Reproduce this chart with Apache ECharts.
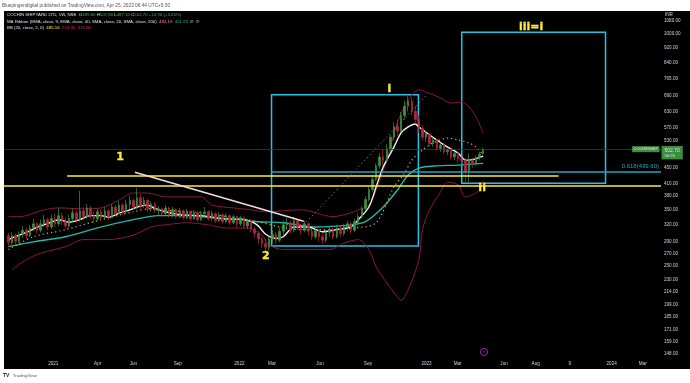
<!DOCTYPE html>
<html><head><meta charset="utf-8">
<script src="https://cdn.jsdelivr.net/npm/echarts@6/dist/echarts.min.js"></script>
<style>html,body{margin:0;padding:0;background:#000}#c{width:690px;height:383px}</style>
</head><body><div id="c"></div>
<script>
// ---------------- DATA ----------------
const weekStart = '2020-10-05';
// weekly candles: [open, close, low, high]
const ohlc = [
[300,288,280,305],[288,300,284,306],[300,290,285,304],[290,303,287,308],[303,310,296,318],
[310,300,294,314],[300,314,297,320],[314,322,308,332],[322,310,304,326],[310,322,306,330],
[322,330,316,340],[330,316,310,334],[316,332,312,340],[332,322,316,342],[322,338,318,355],
[338,326,320,344],[326,318,312,334],[318,332,314,340],[332,344,326,352],[344,330,324,348],
[330,348,326,392],[348,336,330,356],[336,354,332,362],[354,338,332,358],[338,332,324,346],
[332,346,328,352],[346,334,330,350],[334,348,330,356],[348,336,330,352],[336,356,332,362],
[356,342,338,360],[342,360,340,368],[360,346,340,364],[346,362,342,372],[362,370,352,380],
[370,356,350,374],[356,376,352,398],[376,358,350,384],[358,370,354,378],[370,352,346,374],
[352,362,346,368],[362,348,344,366],[348,352,340,358],[352,342,336,355],[342,354,338,360],
[354,340,334,357],[340,350,335,356],[350,336,332,353],[336,348,333,354],[348,334,330,351],
[334,346,331,352],[346,332,328,349],[332,344,329,350],[344,330,326,347],[330,342,327,348],
[342,346,336,356],[346,332,328,349],[332,342,328,348],[342,328,324,345],[328,340,325,345],
[340,326,322,343],[326,338,323,343],[338,324,320,340],[324,336,321,340],[336,322,316,338],
[322,334,318,338],[334,318,314,336],[318,328,312,332],[328,312,306,330],[312,304,296,316],
[304,294,286,308],[294,286,278,298],[286,280,270,294],[280,294,274,298],[294,302,286,310],
[302,292,286,306],[292,308,288,314],[308,320,300,328],[320,324,310,334],[324,310,304,328],
[310,328,306,336],[328,316,310,332],[316,310,302,322],[310,322,306,328],[322,308,300,325],
[308,298,292,312],[298,310,294,314],[310,298,290,312],[298,292,286,304],[292,306,288,310],
[306,312,298,318],[312,298,294,314],[298,314,295,320],[314,304,298,318],[304,316,300,322],
[316,322,308,328],[322,310,304,325],[310,326,306,332],[324,336,320,342],[336,352,332,358],
[352,372,348,380],[372,395,368,402],[395,420,390,430],[420,455,415,462],[455,480,448,492],
[480,470,455,500],[470,505,465,518],[505,540,495,548],[540,575,530,590],[575,560,545,598],
[560,615,555,628],[615,650,600,672],[650,670,630,690],[670,630,615,685],[630,600,585,650],
[600,570,555,615],[570,540,530,580],[540,550,525,562],[550,520,512,555],[520,530,510,540],
[530,505,498,535],[505,515,495,522],[515,495,488,520],[495,500,485,508],[500,480,472,505],
[480,490,470,496],[490,475,465,495],[475,470,458,482],[470,440,411,478],[440,470,412,490],
[470,462,450,478],[462,478,455,484],[478,487.8,470,495],[489.8,502.7,487.1,507.8]
];
// indicator readings: [week index, value]
const ema9 = [[0,293],[1,296],[5,306],[8,315],[12,325],[14,330],[17,325],[20,330],[23,338],[26,338],[28,335],[31,343],[34,350],[37,358],[39,360],[41,353],[44,346],[47,341],[50,339],[54,338],[57,335],[61,331],[65,331],[68,326],[70,318],[72,303],[75,295],[77,298],[80,316],[84,316],[88,307],[92,311],[96,316],[98,330],[101,356],[103,401],[105,452],[108,509],[110,554],[112,574],[114,584],[115,574],[118,547],[122,516],[126,491],[128,471],[129,471],[133,482.19]];
const ema40 = [[0,281],[7,289],[16,298],[26,316],[35,330],[42,338],[50,338],[57,334],[65,330],[70,326],[77,324],[86,316],[96,320],[100,326],[105,356],[109,394],[112,431],[115,449],[120,455],[126,457],[133,461.83]];
const bbBasis = [[0,276],[7,298],[16,311],[26,330],[35,346],[40,352],[46,348],[54,344],[63,334],[70,326],[76,316],[82,311],[90,311],[97,314],[103,324],[108,401],[111,436],[113,471],[116,500],[119,522],[123,537],[126,531],[129,522],[131,509],[133,485.16]];
const bbUpper = [[0,336],[3,336],[10,350],[14,354],[21,352],[26,354],[31,371],[35,387],[39,387],[44,378],[54,378],[57,360],[63,354],[68,350],[72,346],[82,350],[91,336],[96,344],[98,350],[101,360],[103,394],[106,471],[109,591],[112,674],[115,716],[117,707],[121,683],[124,662],[127,666],[129,647],[131,609],[133,553.45]];
const bbLower = [[1,245],[5,260],[9,270],[16,281],[21,293],[28,293],[35,301],[40,316],[44,320],[50,324],[56,320],[61,314],[67,314],[71,301],[73,284],[77,276],[82,276],[90,276],[94,287],[98,293],[101,276],[103,249],[106,226],[109,208],[110,204],[112,217],[115,260],[116,311],[118,350],[121,389],[123,413],[126,406],[128,378],[130,383],[132,394],[133,416.86]];
// drawings
const lastPrice = 502.7;
const yellowUpper = [['2021-01-28', 428.4], ['2023-09-19', 428.4]];
const yellowLower = 401.9;
const fibStart = ['2022-03-05', 439.6];
const pinkTrend = [['2021-06-10', 438], ['2022-05-07', 327]];
const grayTrend = [['2022-05-07', 320], ['2023-01-05', 699]];
const boxes = [[['2022-03-05', 282], ['2022-12-18', 696]], [['2023-03-13', 410], ['2023-12-20', 1010]]];
const annoText = ['1', '2', 'i', 'ii', 'iii=i'];
const annoDate = ['2021-05-12', '2022-02-22', '2022-10-22', '2023-04-22', '2023-07-27'];
const annoPrice = [480, 265, 720, 399.5, 1041];
// axes
const priceTicks = [1080, 1000, 920, 840, 765, 690, 630, 570, 530, 450, 410, 380, 350, 320, 290, 270, 250, 230, 214, 199, 185, 171, 159, 148];
const timeLabels = ['2021', 'Apr', 'Jun', 'Sep', '2022', 'Mar', 'Jun', 'Sep', '2023', 'Mar', 'Jun', 'Aug', '9', '2024', 'Mar'];
const timeLabelDates = ['2021-01-01', '2021-03-29', '2021-06-07', '2021-09-02', '2022-01-01', '2022-03-06', '2022-06-08', '2022-09-10', '2023-01-03', '2023-03-05', '2023-06-04', '2023-08-05', '2023-10-11', '2024-01-01', '2024-03-02'];
const xRange = ['2020-09-26T07:00:00', '2024-04-06T19:00:00'];
const yRange = [144.5, 1147];

// ---------------- BUILD ----------------
const DAY = 864e5;
const ts = s => new Date(s.length === 10 ? s + 'T00:00:00' : s).getTime();
const t0 = ts(weekStart);
const wk = i => t0 + i * 7 * DAY;
const L = Math.log;
const xMin = ts(xRange[0]), xMax = ts(xRange[1]);
const labelTs = timeLabelDates.map(ts);
const labelFor = v => { let best = '', bd = Infinity; labelTs.forEach((t, k) => { const d = Math.abs(t - v); if (d < bd) { bd = d; best = timeLabels[k]; } }); return bd < DAY ? best : ''; };

const candleData = ohlc.map((r, i) => [wk(i), L(r[0]), L(r[1]), L(r[2]), L(r[3])]);
const toLine = arr => arr.map(([i, v]) => [wk(i), L(v)]);
const lineS = (name, arr, color, width, type) => ({
  name, type: 'line', data: toLine(arr), showSymbol: false, smooth: 0.3, silent: true,
  lineStyle: { color, width, type: type || 'solid' }, z: 3
});
const seg = (a, b, color, width, type) => [
  { coord: [ts(a[0]), L(a[1])], lineStyle: { color, width, type } },
  { coord: [ts(b[0]), L(b[1])] }
];
const FF = 'Liberation Sans';
const YEL = '#ffeb3b';
const LF = '4.35px Liberation Sans';

const chart = echarts.init(document.getElementById('c'), null, { renderer: 'canvas' });
chart.setOption({
  backgroundColor: '#000',
  animation: false,
  grid: { left: 4, right: 29, top: 11, bottom: 25 },
  xAxis: {
    type: 'value', min: xMin, max: xMax, scale: true,
    axisLine: { show: false }, axisTick: { show: false }, splitLine: { show: false },
    axisLabel: {
      customValues: labelTs,
      formatter: v => labelFor(v),
      color: '#d1d4dc', fontSize: 4.6, margin: 3, fontFamily: FF
    }
  },
  yAxis: {
    type: 'value', position: 'right', min: L(yRange[0]), max: L(yRange[1]), scale: true,
    axisLine: { show: false }, axisTick: { show: false }, splitLine: { show: false },
    axisLabel: {
      customValues: priceTicks.map(L),
      formatter: v => Math.exp(v).toFixed(2),
      color: '#d1d4dc', fontSize: 4.6, margin: 3, fontFamily: FF
    }
  },
  series: [
    lineS('BB upper', bbUpper, '#8a183c', 1),
    lineS('BB lower', bbLower, '#8a183c', 1),
    lineS('EMA40', ema40, '#22b8aa', 1.4),
    lineS('BB basis', bbBasis, '#d2bd1e', 1.2, [1.2, 3]),
    {
      name: 'COCHINSHIP', type: 'candlestick', data: candleData,
      encode: { x: 0, y: [1, 2, 3, 4] }, barWidth: 2, z: 4,
      itemStyle: { color: '#3e9440', color0: '#b8253f', borderColor: '#3e9440', borderColor0: '#b8253f', borderWidth: 0.7 },
      markLine: {
        silent: true, symbol: ['none', 'none'], label: { show: false },
        data: [
          { yAxis: L(lastPrice), lineStyle: { color: '#2f3d33', width: 0.8, type: 'solid' } },
          { yAxis: L(yellowLower), lineStyle: { color: YEL, width: 1.6, type: 'solid' } },
          seg(yellowUpper[0], yellowUpper[1], YEL, 1.5, 'solid'),
          [
            { coord: [ts(fibStart[0]), L(fibStart[1])], lineStyle: { color: '#1ea6c8', width: 1.6, type: 'solid' },
              label: { show: true, position: 'insideEndTop', distance: [2, 2], formatter: '0.618(439.60)', color: '#1ea6c8', fontSize: 6, fontFamily: FF } },
            { coord: [xMax, L(fibStart[1])] }
          ],
          seg(pinkTrend[0], pinkTrend[1], '#f3dbe4', 1.4, 'solid'),
          seg(grayTrend[0], grayTrend[1], '#6f727c', 1, [1.5, 2.5])
        ]
      },
      markArea: {
        silent: true, label: { show: false },
        itemStyle: { color: 'rgba(0,0,0,0)', borderColor: '#22c3e6', borderWidth: 1.5 },
        data: boxes.map(b => [{ coord: [ts(b[0][0]), L(b[0][1])] }, { coord: [ts(b[1][0]), L(b[1][1])] }])
      }
    },
    lineS('EMA9', ema9, '#f8f1f4', 1.4),
    {
      name: 'labels', type: 'scatter', silent: true, clip: false, z: 10,
      data: annoDate.map((d, k) => [ts(d), L(annoPrice[k])]),
      symbolSize: 1, itemStyle: { color: 'rgba(0,0,0,0)' },
      label: { show: true, position: 'inside', formatter: p => annoText[p.dataIndex], color: YEL, fontSize: 11, fontWeight: 'bold', fontFamily: 'DejaVu Sans', textBorderColor: YEL, textBorderWidth: 0.3, opacity: 1 }
    },
    {
      name: 'priceTag', type: 'scatter', silent: true, clip: false, z: 10,
      symbolSize: 1, itemStyle: { color: 'rgba(0,0,0,0)' },
      data: [
        { value: [xMax, L(lastPrice)], label: { position: 'right', distance: 0, offset: [0, 3.5], formatter: '{a|502.70}\n{b|3d 9h}', backgroundColor: '#4caf50', padding: [1.5, 3, 1.5, 3], rich: { a: { color: '#fff', fontSize: 5, lineHeight: 5.5 }, b: { color: '#e8f5e9', fontSize: 4.2, lineHeight: 5 } } } },
        { value: [xMax, L(lastPrice)], label: { position: 'left', distance: 1, formatter: 'COCHINSHIP', backgroundColor: '#4caf50', color: '#fff', fontSize: 3.9, padding: [1, 1.5, 1, 1.5] } }
      ],
      label: { show: true, fontFamily: FF }
    }
  ],
  graphic: [
    { type: 'rect', shape: { x: 0, y: 0, width: 690, height: 11 }, style: { fill: '#fff' }, z: 100 },
    { type: 'rect', shape: { x: 0, y: 369, width: 690, height: 14 }, style: { fill: '#fff' }, z: 100 },
    { type: 'rect', shape: { x: 0, y: 0, width: 4, height: 383 }, style: { fill: '#fff' }, z: 100 },
    { type: 'text', z: 101, style: { x: 2, y: 5.5, verticalAlign: 'middle', text: 'Bluepingendigital published on TradingView.com, Apr 25, 2023 06:44 UTC+5:30', fill: '#555', font: '4.75px Liberation Sans' } },
    { type: 'text', z: 101, style: { x: 3, y: 375.5, verticalAlign: 'middle', text: '{l|TV} {t|TradingView}', rich: { l: { fill: '#131722', font: 'bold 5px Liberation Sans' }, t: { fill: '#555', font: '4.4px Liberation Sans' } } } },
    { type: 'text', z: 101, style: { x: 7, y: 14.5, verticalAlign: 'middle',
      text: '{w|COCHIN SHIPYARD LTD, 1W, NSE  O}{g|489.80}{w| H}{g|507.80}{w| L}{g|487.10}{w| C}{g|502.70}{g| +14.90 (+3.05%)}',
      rich: { w: { fill: '#e0e3eb', font: LF }, g: { fill: '#4caf50', font: LF } } } },
    { type: 'text', z: 101, style: { x: 7, y: 21.5, verticalAlign: 'middle',
      text: '{w|MA Ribbon (EMA, close, 9, EMA, close, 40, SMA, close, 20, SMA, close, 200)  }{p|482.19}{w|  }{t|461.83}{w|  \u2205  \u2205}',
      rich: { w: { fill: '#e0e3eb', font: LF }, p: { fill: '#f48fb1', font: LF }, t: { fill: '#26a69a', font: LF } } } },
    { type: 'text', z: 101, style: { x: 7, y: 28.2, verticalAlign: 'middle',
      text: '{w|BB (20, close, 2, 0)  }{y|485.16}{w|  }{r|553.45}{w|  }{r|416.86}',
      rich: { w: { fill: '#e0e3eb', font: LF }, y: { fill: '#ffeb3b', font: LF }, r: { fill: '#e0245e', font: LF } } } },
    { type: 'text', z: 101, style: { x: 665, y: 15, verticalAlign: 'middle', text: 'INR', fill: '#d1d4dc', font: '4.6px Liberation Sans' } },
    { type: 'circle', z: 101, shape: { cx: 484, cy: 352, r: 3.6 }, style: { fill: 'none', stroke: '#9c27b0', lineWidth: 1 } },
    { type: 'text', z: 101, style: { x: 484, y: 352, align: 'center', verticalAlign: 'middle', text: '\u26A1', fill: '#9c27b0', font: '4.5px DejaVu Sans' } }
  ]
});
</script></body></html>
